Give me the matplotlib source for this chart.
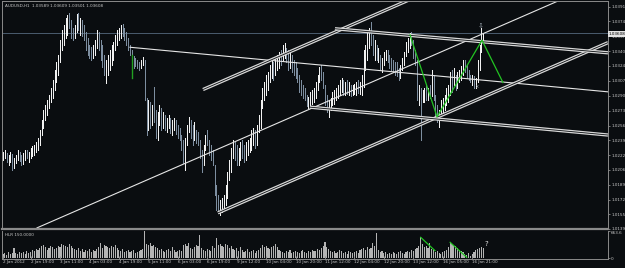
import numpy as np
import matplotlib.pyplot as plt

# ---- data (bar index 0 = 2 Jan 2012) ----
highs = [1.0226, 1.0228, 1.0225, 1.0223, 1.0226, 1.0224, 1.0219, 1.0223, 1.0228, 1.0226,
         1.0223, 1.0225, 1.0228, 1.0228, 1.0226, 1.0231, 1.0233, 1.0234, 1.0237, 1.0242,
         1.0251, 1.0262, 1.0274, 1.0279, 1.0285, 1.0291, 1.0299, 1.0308, 1.0319, 1.0328,
         1.0336, 1.0353, 1.0365, 1.0370, 1.0378, 1.0382, 1.0384, 1.0376, 1.0367, 1.0370,
         1.0383, 1.0384, 1.0378, 1.0376, 1.0370, 1.0362, 1.0355, 1.0348, 1.0345, 1.0348,
         1.0353, 1.0365, 1.0362, 1.0353, 1.0348, 1.0336, 1.0331, 1.0336, 1.0342, 1.0348,
         1.0351, 1.0359, 1.0365, 1.0367, 1.0370, 1.0371, 1.0367, 1.0362, 1.0355, 1.0348,
         1.0342, 1.0335, 1.0333, 1.0331, 1.0328, 1.0331, 1.0334, 1.0331, 1.0287, 1.0285,
         1.0283, 1.0279, 1.0300, 1.0274, 1.0271, 1.0279, 1.0276, 1.0271, 1.0268, 1.0265,
         1.0268, 1.0265, 1.0262, 1.0265, 1.0262, 1.0257, 1.0253, 1.0245, 1.0240, 1.0242,
         1.0257, 1.0266, 1.0262, 1.0257, 1.0260, 1.0251, 1.0249, 1.0240, 1.0228, 1.0234,
         1.0245, 1.0251, 1.0240, 1.0234, 1.0228, 1.0211, 1.0189, 1.0177, 1.0172, 1.0174,
         1.0177, 1.0189, 1.0203, 1.0217, 1.0231, 1.0240, 1.0237, 1.0234, 1.0231, 1.0237,
         1.0240, 1.0234, 1.0237, 1.0240, 1.0242, 1.0251, 1.0253, 1.0251, 1.0257, 1.0268,
         1.0285, 1.0299, 1.0306, 1.0313, 1.0317, 1.0325, 1.0331, 1.0328, 1.0333, 1.0336,
         1.0340, 1.0342, 1.0348, 1.0350, 1.0344, 1.0342, 1.0340, 1.0336, 1.0331, 1.0328,
         1.0321, 1.0313, 1.0308, 1.0302, 1.0299, 1.0291, 1.0289, 1.0294, 1.0296, 1.0299,
         1.0306, 1.0313, 1.0323, 1.0325, 1.0317, 1.0302, 1.0291, 1.0285, 1.0287, 1.0294,
         1.0296, 1.0299, 1.0302, 1.0308, 1.0310, 1.0308, 1.0306, 1.0308, 1.0306, 1.0302,
         1.0302, 1.0303, 1.0306, 1.0308, 1.0306, 1.0313, 1.0342, 1.0348, 1.0361, 1.0367,
         1.0374, 1.0359, 1.0353, 1.0348, 1.0344, 1.0336, 1.0333, 1.0340, 1.0342, 1.0342,
         1.0336, 1.0333, 1.0331, 1.0328, 1.0328, 1.0321, 1.0325, 1.0333, 1.0340, 1.0351,
         1.0355, 1.0361, 1.0362, 1.0353, 1.0342, 1.0331, 1.0302, 1.0299, 1.0296, 1.0299,
         1.0302, 1.0299, 1.0302, 1.0319, 1.0313, 1.0291, 1.0279, 1.0274, 1.0285, 1.0287,
         1.0291, 1.0299, 1.0302, 1.0317, 1.0319, 1.0321, 1.0313, 1.0317, 1.0319, 1.0324,
         1.0331, 1.0331, 1.0325, 1.0319, 1.0313, 1.0313, 1.0312, 1.0310, 1.0331, 1.0348,
         1.0367, 1.03609]
lows = [1.0217, 1.0219, 1.0215, 1.0211, 1.0215, 1.0206, 1.0208, 1.0214, 1.0217, 1.0216,
        1.0211, 1.0212, 1.0217, 1.0219, 1.0215, 1.0219, 1.0222, 1.0223, 1.0226, 1.0228,
        1.0234, 1.0245, 1.0253, 1.0262, 1.0268, 1.0276, 1.0283, 1.0287, 1.0296, 1.0306,
        1.0313, 1.0328, 1.0342, 1.0347, 1.0355, 1.0359, 1.0367, 1.0355, 1.0353, 1.0355,
        1.0362, 1.0365, 1.0359, 1.0358, 1.0353, 1.0342, 1.0336, 1.0333, 1.0331, 1.0333,
        1.0336, 1.0344, 1.0342, 1.0331, 1.0323, 1.0313, 1.0304, 1.0313, 1.0319, 1.0325,
        1.0331, 1.0342, 1.0348, 1.0353, 1.0355, 1.0358, 1.0353, 1.0348, 1.0342, 1.0336,
        1.0328, 1.0321, 1.0324, 1.0321, 1.0319, 1.0321, 1.0325, 1.0285, 1.0245, 1.0251,
        1.0253, 1.0257, 1.0260, 1.0242, 1.0240, 1.0257, 1.0251, 1.0253, 1.0251, 1.0249,
        1.0253, 1.0248, 1.0245, 1.0251, 1.0247, 1.0242, 1.0240, 1.0228, 1.0214, 1.0206,
        1.0234, 1.0249, 1.0242, 1.0234, 1.0240, 1.0236, 1.0234, 1.0219, 1.0203, 1.0211,
        1.0228, 1.0234, 1.0223, 1.0217, 1.0211, 1.0177, 1.0160, 1.0157, 1.0155, 1.0158,
        1.0160, 1.0166, 1.0174, 1.0194, 1.0203, 1.0219, 1.0217, 1.0211, 1.0211, 1.0217,
        1.0219, 1.0215, 1.0217, 1.0223, 1.0226, 1.0228, 1.0234, 1.0231, 1.0234, 1.0249,
        1.0253, 1.0276, 1.0285, 1.0291, 1.0296, 1.0306, 1.0310, 1.0308, 1.0313, 1.0319,
        1.0321, 1.0325, 1.0331, 1.0333, 1.0328, 1.0319, 1.0321, 1.0317, 1.0313, 1.0310,
        1.0306, 1.0294, 1.0291, 1.0287, 1.0285, 1.0278, 1.0276, 1.0279, 1.0281, 1.0283,
        1.0287, 1.0296, 1.0306, 1.0308, 1.0299, 1.0279, 1.0271, 1.0266, 1.0274, 1.0279,
        1.0281, 1.0285, 1.0287, 1.0291, 1.0294, 1.0291, 1.0291, 1.0292, 1.0291, 1.0290,
        1.0291, 1.0292, 1.0291, 1.0293, 1.0292, 1.0291, 1.0300, 1.0319, 1.0331, 1.0344,
        1.0348, 1.0336, 1.0331, 1.0331, 1.0328, 1.0319, 1.0317, 1.0325, 1.0331, 1.0328,
        1.0321, 1.0319, 1.0317, 1.0313, 1.0312, 1.0308, 1.0310, 1.0319, 1.0325, 1.0335,
        1.0340, 1.0344, 1.0348, 1.0333, 1.0325, 1.0285, 1.0279, 1.0240, 1.0283, 1.0283,
        1.0285, 1.0285, 1.0287, 1.0290, 1.0285, 1.0265, 1.0260, 1.0254, 1.0268, 1.0271,
        1.0274, 1.0279, 1.0283, 1.0291, 1.0294, 1.0302, 1.0296, 1.0299, 1.0306, 1.0308,
        1.0313, 1.0317, 1.0310, 1.0308, 1.0306, 1.0302, 1.0299, 1.0299, 1.0306, 1.0319,
        1.0340, 1.03501]
closes = [1.0219, 1.0225, 1.0217, 1.0219, 1.0223, 1.0211, 1.0217, 1.0220, 1.0226, 1.0219,
          1.0217, 1.0222, 1.0226, 1.0223, 1.0224, 1.0228, 1.0231, 1.0232, 1.0235, 1.0240,
          1.0249, 1.0260, 1.0271, 1.0276, 1.0283, 1.0287, 1.0296, 1.0303, 1.0315, 1.0324,
          1.0333, 1.0351, 1.0360, 1.0367, 1.0374, 1.0376, 1.0370, 1.0362, 1.0358, 1.0367,
          1.0378, 1.0370, 1.0374, 1.0365, 1.0359, 1.0348, 1.0342, 1.0340, 1.0336, 1.0342,
          1.0351, 1.0359, 1.0348, 1.0336, 1.0331, 1.0319, 1.0325, 1.0333, 1.0336, 1.0344,
          1.0348, 1.0355, 1.0362, 1.0365, 1.0368, 1.0362, 1.0355, 1.0351, 1.0344, 1.0340,
          1.0333, 1.0331, 1.0328, 1.0326, 1.0324, 1.0328, 1.0331, 1.0287, 1.0274, 1.0279,
          1.0262, 1.0274, 1.0268, 1.0251, 1.0262, 1.0274, 1.0262, 1.0265, 1.0257, 1.0260,
          1.0262, 1.0251, 1.0257, 1.0260, 1.0251, 1.0245, 1.0242, 1.0231, 1.0228, 1.0234,
          1.0253, 1.0262, 1.0245, 1.0240, 1.0257, 1.0240, 1.0237, 1.0223, 1.0217, 1.0228,
          1.0240, 1.0237, 1.0228, 1.0223, 1.0217, 1.0183, 1.0166, 1.0163, 1.0166, 1.0172,
          1.0174, 1.0183, 1.0200, 1.0211, 1.0228, 1.0234, 1.0228, 1.0219, 1.0226, 1.0231,
          1.0228, 1.0223, 1.0231, 1.0234, 1.0237, 1.0245, 1.0249, 1.0240, 1.0253, 1.0265,
          1.0283, 1.0296, 1.0302, 1.0308, 1.0313, 1.0321, 1.0328, 1.0317, 1.0331, 1.0333,
          1.0336, 1.0331, 1.0344, 1.0346, 1.0336, 1.0325, 1.0333, 1.0321, 1.0319, 1.0313,
          1.0310, 1.0299, 1.0296, 1.0291, 1.0289, 1.0283, 1.0285, 1.0291, 1.0293, 1.0296,
          1.0302, 1.0310, 1.0319, 1.0313, 1.0302, 1.0285, 1.0276, 1.0279, 1.0283, 1.0291,
          1.0291, 1.0294, 1.0296, 1.0302, 1.0306, 1.0299, 1.0302, 1.0296, 1.0299, 1.0296,
          1.0296, 1.0299, 1.0302, 1.0296, 1.0303, 1.0308, 1.0336, 1.0342, 1.0355, 1.0362,
          1.0353, 1.0342, 1.0348, 1.0336, 1.0340, 1.0325, 1.0328, 1.0336, 1.0336, 1.0333,
          1.0328, 1.0325, 1.0321, 1.0319, 1.0317, 1.0313, 1.0319, 1.0331, 1.0336, 1.0348,
          1.0353, 1.0358, 1.0351, 1.0336, 1.0328, 1.0291, 1.0291, 1.0287, 1.0291, 1.0294,
          1.0291, 1.0296, 1.0294, 1.0313, 1.0291, 1.0271, 1.0268, 1.0276, 1.0279, 1.0283,
          1.0285, 1.0294, 1.0299, 1.0312, 1.0310, 1.0317, 1.0302, 1.0310, 1.0315, 1.0319,
          1.0328, 1.0321, 1.0317, 1.0312, 1.0308, 1.0310, 1.0302, 1.0305, 1.0325, 1.0344,
          1.03589, 1.03608]
volumes = [100, 125, 75, 150, 100, 125, 250, 125, 100, 150,
           125, 150, 100, 175, 125, 150, 200, 175, 225, 200,
           250, 300, 325, 275, 200, 250, 300, 275, 225, 250,
           300, 275, 350, 325, 300, 275, 350, 300, 250, 225,
           200, 250, 175, 225, 150, 200, 175, 225, 150, 200,
           175, 225, 275, 375, 250, 325, 300, 275, 250, 300,
           275, 325, 250, 200, 175, 225, 150, 175, 200, 150,
           175, 200, 125, 150, 175, 200, 225, 663.6, 350, 325,
           375, 300, 325, 275, 250, 200, 225, 175, 150, 200,
           225, 175, 275, 200, 150, 175, 200, 175, 325, 350,
           300, 375, 250, 225, 275, 325, 300, 575, 250, 200,
           175, 225, 200, 175, 300, 250, 500, 325, 350, 300,
           275, 350, 325, 250, 300, 225, 200, 250, 175, 275,
           200, 150, 175, 225, 150, 175, 200, 125, 175, 200,
           250, 325, 275, 300, 250, 225, 275, 300, 350, 275,
           200, 175, 150, 125, 175, 150, 200, 125, 150, 175,
           150, 125, 175, 200, 150, 125, 175, 150, 200, 175,
           175, 225, 200, 250, 300, 400, 275, 225, 175, 150,
           175, 125, 150, 200, 175, 125, 150, 100, 175, 150,
           125, 150, 175, 125, 200, 225, 250, 200, 275, 225,
           250, 375, 300, 625, 200, 150, 175, 125, 150, 100,
           125, 100, 150, 125, 100, 150, 175, 125, 100, 150,
           175, 150, 200, 175, 225, 250, 300, 525, 350, 275,
           300, 250, 375, 225, 200, 150, 175, 125, 100, 150,
           175, 200, 275, 400, 350, 325, 300, 250, 200, 175,
           150, 100, 75, 125, 50, 100, 150, 200, 225, 250,
           275, 250]

time_ticks = [0, 15, 31, 47, 63, 79, 95, 111, 127, 143, 159, 175, 191, 207, 223, 239, 255]
time_labels = ['2 Jan 2012', '2 Jan 19:00', '3 Jan 11:00', '4 Jan 03:00', '4 Jan 19:00',
               '5 Jan 11:00', '6 Jan 03:00', '6 Jan 19:00', '9 Jan 12:00', '10 Jan 04:00',
               '10 Jan 20:00', '11 Jan 12:00', '12 Jan 04:00', '12 Jan 20:00', '13 Jan 12:00',
               '16 Jan 05:00', '16 Jan 21:00']
price_ticks = [1.03910, 1.03745, 1.03575, 1.03405, 1.03240, 1.03070, 1.02900, 1.02730,
               1.02560, 1.02395, 1.02225, 1.02060, 1.01890, 1.01720, 1.01555, 1.01390]
bid = 1.03608

# trend lines: (bar, price) anchor pairs, drawn as rays to the right
thin_lines = [((69, 1.0345), (300, 1.0300)),
              ((18.5, 1.0140), (300, 1.0396))]
double_lines = [((108.7, 1.0297), (221, 1.0399)),
                ((116.8, 1.0157), (300, 1.0324)),
                ((180.4, 1.0366), (300, 1.0344)),
                ((166.8, 1.0277), (300, 1.0251))]
zigzag_t = [221.2, 235.9, 260.3, 271.7]
zigzag_p = [1.0359, 1.0266, 1.0353, 1.0305]
vol_zz = [((227, 517), (234.8, 182)), ((243, 392), (252, 17))]

BG = '#0a0d10'
FG = '#c8c8c8'
FS = 3.0
W, H = 625, 268

fig = plt.figure(figsize=(W / 100, H / 100), dpi=100)
fig.patch.set_facecolor(BG)


def px_axes(x0, y0, x1, y1):
    return fig.add_axes([x0 / W, 1 - y1 / H, (x1 - x0) / W, (y1 - y0) / H])


ax = px_axes(2, 1, 608, 229)
vx = px_axes(2, 231, 608, 259)
XMIN, XMAX = -0.54, 328.8

n = len(highs)
idx = np.arange(n)
c = np.array(closes)
o = np.concatenate([[c[0]], c[:-1]])
cols = np.where(c >= o, '#f2f2f2', '#7d8ea0')

ax.set_facecolor(BG)
ax.axhline(bid, color='#4a5c6e', lw=0.7)
ax.vlines(idx, lows, highs, colors=cols, lw=0.55, antialiased=False)


def ray(a, p1, p2, **kw):
    (t1, y1), (t2, y2) = p1, p2
    k = (y2 - y1) / (t2 - t1)
    a.plot([t1, XMAX], [y1, y1 + k * (XMAX - t1)], **kw)


for p1, p2 in thin_lines:
    ray(ax, p1, p2, color='#e6e6e6', lw=0.8)
for p1, p2 in double_lines:
    ray(ax, p1, p2, color='#d8d8d8', lw=2.4, solid_capstyle='butt')
    ray(ax, p1, p2, color=BG, lw=0.6, solid_capstyle='butt')

ax.plot(zigzag_t, zigzag_p, color='#22c322', lw=0.9)
ax.plot([70.1, 70.1], [1.0336, 1.0310], color='#22a022', lw=1.0)
ax.text(259.5, 1.0369, '\u21e9', color='#9aa4ae', fontsize=5, ha='center', va='center')
ax.text(258, 1.0300, 'x', color='#8a949e', fontsize=3.5, ha='center', va='center')

ax.set_xlim(XMIN, XMAX)
ax.set_ylim(1.01387, 1.03975)
ax.set_xticks([])
ax.yaxis.tick_right()
ax.set_yticks(price_ticks)
ax.set_yticklabels(['%.5f' % p for p in price_ticks])
ax.tick_params(axis='y', colors='#8a8a8a', labelcolor=FG, labelsize=FS, length=1.5, width=0.6, pad=0.8)
for s in ax.spines.values():
    s.set_color('#8a8a8a')
    s.set_linewidth(0.7)
ax.spines['bottom'].set_linewidth(1.6)
ax.text(609 / W, 1 - 34 / H, '%.5f' % bid, transform=fig.transFigure, fontsize=FS,
        color='black', va='center', ha='left',
        bbox=dict(boxstyle='square,pad=0.2', fc='#e4e4e4', ec='none'))
ax.text(0.005, 0.985, 'AUDUSD,H1  1.03589 1.03609 1.03501 1.03608', transform=ax.transAxes,
        fontsize=FS, color=FG, va='top', ha='left')

# volume window
vx.set_facecolor(BG)
vx.bar(idx, volumes, width=0.6, color='#b4b4b4', linewidth=0)
for p1, p2 in vol_zz:
    vx.plot([p1[0], p2[0]], [p1[1], p2[1]], color='#22c322', lw=0.9)
vx.text(262.5, 360, '?', color='#e0e0e0', fontsize=5, ha='center', va='center')
vx.text(0.005, 0.93, 'HLR 150.0000', transform=vx.transAxes, fontsize=FS, color=FG,
        va='top', ha='left')
vx.set_xlim(XMIN, XMAX)
vx.set_ylim(-25, 675)
vx.yaxis.tick_right()
vx.set_yticks([0, 663.6])
vx.set_yticklabels(['0', '663.6'])
vx.get_yticklabels()[1].set_va('top')
vx.tick_params(axis='y', colors='#8a8a8a', labelcolor=FG, labelsize=FS, length=1.5, width=0.6, pad=0.8)
vx.set_xticks(time_ticks)
vx.set_xticklabels(time_labels, ha='left')
vx.tick_params(axis='x', colors='#8a8a8a', labelcolor=FG, labelsize=FS, length=2, width=0.6,
               direction='in', pad=1)
for s in vx.spines.values():
    s.set_color('#8a8a8a')
    s.set_linewidth(0.7)
vx.spines['top'].set_visible(False)

fig.savefig('out.png', dpi=100, facecolor=BG)
